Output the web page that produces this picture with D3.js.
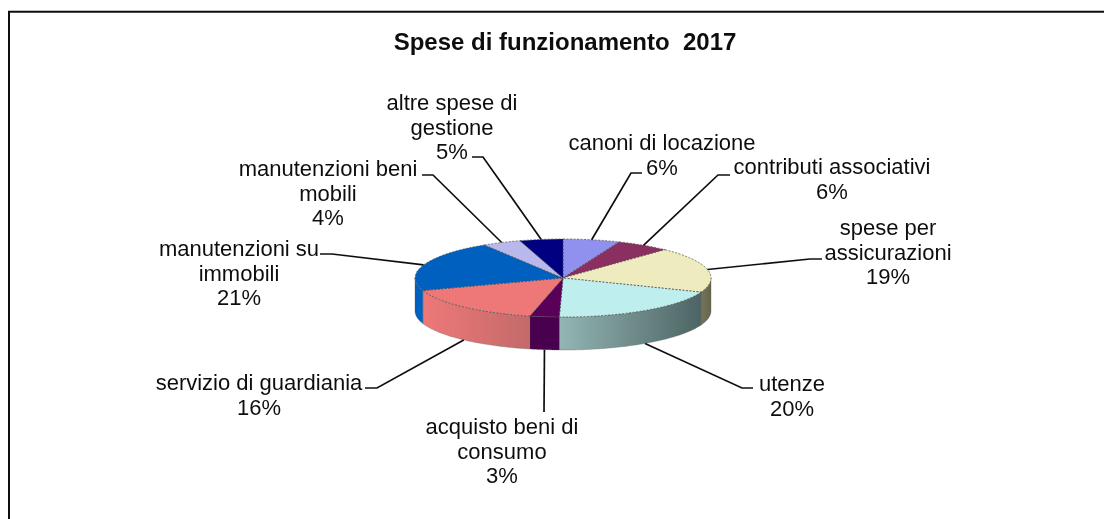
<!DOCTYPE html>
<html><head><meta charset="utf-8">
<script src="https://cdn.jsdelivr.net/npm/d3@7"></script>
<style>html,body{margin:0;padding:0;background:#fff}svg{display:block}text{font-family:"Liberation Sans",Arial,sans-serif;fill:#111}</style>
</head><body><svg id="c" width="1104" height="519"></svg>
<script>
// ---- data
const chartTitle = "Spese di funzionamento\u00A0\u00A02017";
const categories = ["canoni di locazione","contributi associativi","spese per assicurazioni","utenze","acquisto beni di consumo","servizio di guardiania","manutenzioni su immobili","manutenzioni beni mobili","altre spese di gestione"];
const values = [6.2,5.9,18.8,19.5,3.2,16.2,21.3,4.2,4.7];
const labelLines = [["canoni di locazione"],["contributi associativi"],["spese per","assicurazioni"],["utenze"],["acquisto beni di","consumo"],["servizio di guardiania"],["manutenzioni su","immobili"],["manutenzioni beni","mobili"],["altre spese di","gestione"]];
const topColors = ["#9090EE","#8B2E60","#EEECBE","#BEEEEE","#5A0058","#EE7878","#0060C0","#B8B8EC","#000080"];
const wallFrom = ["#9090EE","#8B2E60","#76745A","#93B6B4","#4A0050","#EE7878","#0060C0","#B8B8EC","#000080"];
const wallTo   = ["#9090EE","#8B2E60","#66664C","#4D6464","#4A0050","#C46A6A","#0060C0","#B8B8EC","#000080"];

// ---- layout
const W=1104,H=519,cx=563,cy=278,rx=148,ry=39,depth=33,fs=22,lh=24.6;
const labelX=[662,832,888,792,502,259,239,328,452];
const labelY=[150,174,235,391,434,390,256,176,110];
const elbowA=[[642,173],[730,175],[822,259],[753,388],[544,412],[365,388],[320,254],[422,175],[472,157]];
const elbowB=[[631,173],[718,175],[810,259],[742,388],[544,412],[377,388],[332,254],[433,175],[483,157]];

const svg=d3.select("#c");
const defs=svg.append("defs");
defs.append("filter").attr("id","soft").attr("x","-5%").attr("y","-5%").attr("width","110%").attr("height","110%")
  .append("feGaussianBlur").attr("stdDeviation",0.4);
const root=svg.append("g").attr("filter","url(#soft)");

const frame=d3.path();frame.moveTo(9,H);frame.lineTo(9,11.7);frame.lineTo(W,11.7);
root.append("path").attr("d",frame.toString()).attr("fill","none").attr("stroke","#111").attr("stroke-width",2);

root.append("text").attr("x",565).attr("y",50).attr("text-anchor","middle")
  .attr("font-size",24).attr("font-weight","bold").text(chartTitle);

const arcs=d3.pie().sort(null).value(d=>d)(values);
const px=a=>cx+rx*Math.sin(a), py=a=>cy-ry*Math.cos(a);

// walls
const HALF=Math.PI/2, END=Math.PI*1.5;
arcs.forEach((a,i)=>{
  const s=Math.max(a.startAngle,HALF), e=Math.min(a.endAngle,END);
  if(e<=s) return;
  const ts=d3.range(0,41).map(k=>s+(e-s)*k/40);
  const xs=ts.map(px);
  const id="w"+i;
  const g=defs.append("linearGradient").attr("id",id).attr("gradientUnits","userSpaceOnUse")
    .attr("x1",d3.max(xs)).attr("x2",d3.min(xs)).attr("y1",0).attr("y2",0);
  // angle runs clockwise, so the front wall goes right to left
  g.append("stop").attr("offset",0).attr("stop-color",wallTo[i]);
  g.append("stop").attr("offset",1).attr("stop-color",wallFrom[i]);
  const line=d3.line().x(t=>px(t));
  const upper=line.y(t=>py(t))(ts);
  const lower=line.y(t=>py(t)+depth)(ts.slice().reverse());
  root.append("path").attr("d",upper+"L"+lower.slice(1)+"Z").attr("fill",`url(#${id})`)
    .attr("stroke","#555").attr("stroke-width",0.5).attr("stroke-opacity",0.6);
});

// top face
const arc=d3.arc().innerRadius(0).outerRadius(rx);
root.append("g").attr("transform",`translate(${cx},${cy}) scale(1,${ry/rx})`)
  .selectAll("path").data(arcs).join("path")
  .attr("d",arc).attr("fill",(d,i)=>topColors[i])
  .attr("stroke","#4a4a4a").attr("stroke-width",0.7).attr("stroke-dasharray","2 1.5")
  .attr("vector-effect","non-scaling-stroke");

// leaders
arcs.forEach((a,i)=>{
  const m=(a.startAngle+a.endAngle)/2;
  const front=Math.cos(m)<0;
  const ax=px(m), ay=py(m)+(front?depth:0);
  root.append("path").attr("d",d3.line()([elbowA[i],elbowB[i],[ax,ay]]))
    .attr("fill","none").attr("stroke","#111").attr("stroke-width",1.7);
});

// labels
const pct=d3.format(".0f");
arcs.forEach((a,i)=>{
  const lines=labelLines[i].concat(pct(a.value)+"%");
  const t=root.append("text").attr("text-anchor","middle").attr("font-size",fs);
  lines.forEach((s,k)=>t.append("tspan").attr("x",labelX[i]).attr("y",labelY[i]+k*lh).text(s));
});
</script></body></html>
